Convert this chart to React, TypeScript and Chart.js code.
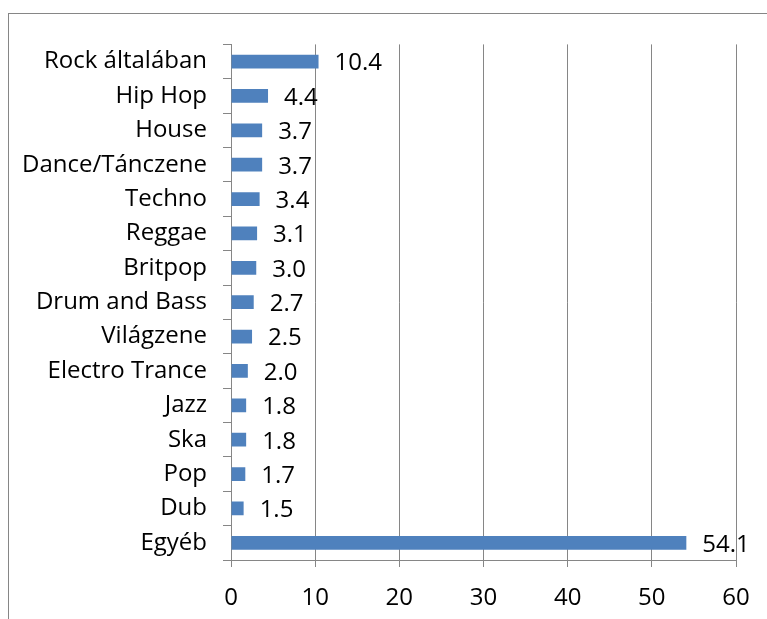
import React, { useEffect, useRef } from "react";
import { Chart, registerables } from "chart.js";

Chart.register(...registerables);

// Music genre shares (%)
const genres = [
  "Rock általában",
  "Hip Hop",
  "House",
  "Dance/Tánczene",
  "Techno",
  "Reggae",
  "Britpop",
  "Drum and Bass",
  "Világzene",
  "Electro Trance",
  "Jazz",
  "Ska",
  "Pop",
  "Dub",
  "Egyéb",
];

const shares = [10.4, 4.4, 3.7, 3.7, 3.4, 3.1, 3.0, 2.7, 2.5, 2.0, 1.8, 1.8, 1.7, 1.5, 54.1];

const xTicks = [0, 10, 20, 30, 40, 50, 60];

const FONT = "'Open Sans', sans-serif";
const FONT_SIZE = 24;
const GRID = "#868686";
const BAR = "#4F81BD";

// Writes each value just past the end of its bar
const valueLabels = {
  id: "valueLabels",
  afterDatasetsDraw(chart: any) {
    const { ctx } = chart;
    const meta = chart.getDatasetMeta(0);
    ctx.save();
    ctx.font = `${FONT_SIZE}px ${FONT}`;
    ctx.fillStyle = "#000";
    ctx.textAlign = "left";
    ctx.textBaseline = "middle";
    meta.data.forEach((bar: any, i: number) => {
      ctx.fillText(shares[i].toFixed(1), bar.x + 16, bar.y + 2);
    });
    ctx.restore();
  },
};

export default function App() {
  const ref = useRef<HTMLCanvasElement>(null);

  useEffect(() => {
    if (!ref.current) return;
    const chart = new Chart(ref.current, {
      type: "bar",
      data: {
        labels: genres,
        datasets: [
          {
            data: shares,
            backgroundColor: BAR,
            borderWidth: 0,
            barPercentage: 0.4,
            categoryPercentage: 1,
          },
        ],
      },
      options: {
        indexAxis: "y",
        animation: false,
        responsive: false,
        maintainAspectRatio: false,
        layout: { padding: { top: 28, right: 31, left: 0, bottom: 0 } },
        plugins: {
          legend: { display: false },
          tooltip: { enabled: false },
        },
        scales: {
          x: {
            min: 0,
            max: 60,
            afterBuildTicks: (scale: any) => {
              scale.ticks = xTicks.map((v) => ({ value: v }));
            },
            afterFit: (scale: any) => {
              scale.height = 59;
            },
            grid: {
              color: GRID,
              lineWidth: 1,
              tickLength: 7,
              drawTicks: true,
            },
            border: { color: GRID, width: 1 },
            ticks: {
              color: "#000",
              font: { family: FONT, size: FONT_SIZE },
              padding: 17,
              maxRotation: 0,
            },
          },
          y: {
            afterFit: (scale: any) => {
              scale.width = 222;
            },
            grid: {
              offset: true,
              drawOnChartArea: false,
              color: GRID,
              tickLength: 8,
            },
            border: { color: GRID, width: 1 },
            ticks: {
              color: "#000",
              font: { family: FONT, size: FONT_SIZE },
              padding: 16,
              autoSkip: false,
            },
          },
        },
      },
      plugins: [valueLabels],
    });
    return () => chart.destroy();
  }, []);

  return (
    <div
      style={{
        position: "fixed",
        left: 8,
        top: 13,
        width: 759,
        height: 606,
        borderLeft: `1px solid ${GRID}`,
        borderTop: `1px solid ${GRID}`,
        background: "#fff",
        overflow: "hidden",
      }}
    >
      <canvas ref={ref} width={758} height={605} style={{ display: "block" }} />
    </div>
  );
}
